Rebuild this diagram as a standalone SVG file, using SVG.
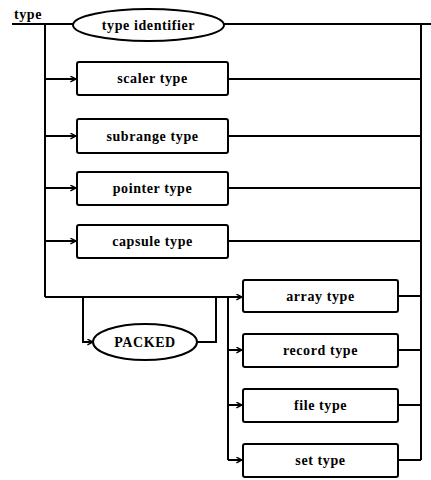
<svg xmlns="http://www.w3.org/2000/svg" width="431" height="480" viewBox="0 0 431 480">
<style>
.n{fill:#fff;stroke:#000;stroke-width:2}
.t{font-family:"Liberation Serif","Times New Roman",serif;font-weight:bold;font-size:14px;letter-spacing:0.6px;text-anchor:middle;dominant-baseline:central;fill:#000}
.c{fill:none;stroke:#000;stroke-width:2}
</style>
<defs>
<marker id="a" viewBox="0 0 10 10" refX="9" refY="5" markerWidth="7" markerHeight="7" markerUnits="userSpaceOnUse" orient="auto">
<path d="M1,1 L9,5 L1,9" fill="none" stroke="#000" stroke-width="2"/>
</marker>
</defs>
<text x="14" y="14" class="t" style="text-anchor:start">type</text>
<g id="connectors">
<path class="c" d="M12,24 H73"/>
<path class="c" d="M224,24 H431"/>
<path class="c" d="M45,24 V297"/>
<path class="c" d="M45,79 H76" marker-end="url(#a)"/>
<path class="c" d="M45,136 H76" marker-end="url(#a)"/>
<path class="c" d="M45,188 H76" marker-end="url(#a)"/>
<path class="c" d="M45,241 H76" marker-end="url(#a)"/>
<path class="c" d="M228,79 H421"/>
<path class="c" d="M228,136 H421"/>
<path class="c" d="M228,188 H421"/>
<path class="c" d="M228,241 H421"/>
<path class="c" d="M421,24 V460"/>
<path class="c" d="M45,297 H242" marker-end="url(#a)"/>
<path class="c" d="M83,297 V342 H93" marker-end="url(#a)"/>
<path class="c" d="M197,342 H216 V297"/>
<path class="c" d="M228,297 V460"/>
<path class="c" d="M228,350 H242" marker-end="url(#a)"/>
<path class="c" d="M228,405 H242" marker-end="url(#a)"/>
<path class="c" d="M228,460 H242" marker-end="url(#a)"/>
<path class="c" d="M398,296 H421"/>
<path class="c" d="M398,350 H421"/>
<path class="c" d="M398,405 H421"/>
<path class="c" d="M398,460 H421"/>
</g>
<g id="type-identifier"><ellipse class="n" cx="148.5" cy="25" rx="75.5" ry="16"/><text class="t" x="148.5" y="25">type identifier</text></g>
<g id="scaler-type"><rect class="n" x="77" y="62" width="151" height="33" rx="2"/><text class="t" x="152.5" y="78.5">scaler type</text></g>
<g id="subrange-type"><rect class="n" x="77" y="119" width="151" height="34" rx="2"/><text class="t" x="152.5" y="136">subrange type</text></g>
<g id="pointer-type"><rect class="n" x="77" y="172" width="151" height="33" rx="2"/><text class="t" x="152.5" y="188.5">pointer type</text></g>
<g id="capsule-type"><rect class="n" x="77" y="225" width="151" height="33" rx="2"/><text class="t" x="152.5" y="241.5">capsule type</text></g>
<g id="packed"><ellipse class="n" cx="145" cy="342" rx="52" ry="18"/><text class="t" x="145" y="342">PACKED</text></g>
<g id="array-type"><rect class="n" x="243" y="280" width="155" height="32" rx="2"/><text class="t" x="320.5" y="296">array type</text></g>
<g id="record-type"><rect class="n" x="243" y="334" width="155" height="33" rx="2"/><text class="t" x="320.5" y="350.5">record type</text></g>
<g id="file-type"><rect class="n" x="243" y="389" width="155" height="33" rx="2"/><text class="t" x="320.5" y="405.5">file type</text></g>
<g id="set-type"><rect class="n" x="243" y="444" width="155" height="33" rx="2"/><text class="t" x="320.5" y="460.5">set type</text></g>
</svg>
